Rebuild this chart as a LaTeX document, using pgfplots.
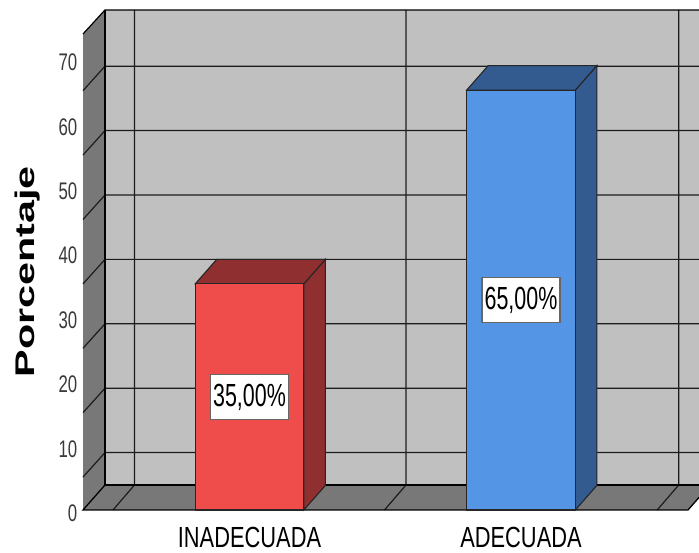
\documentclass[border=0pt]{standalone}
\usepackage{graphicx}
\usepackage{fontspec}
\setmainfont{Liberation Sans}
\usepackage{pgfplots}
\pgfplotsset{compat=1.18}

\definecolor{wallback}{HTML}{C0C0C0}
\definecolor{wallside}{HTML}{787878}
\definecolor{redfront}{HTML}{EF4C4C}
\definecolor{redside}{HTML}{8F2F2F}
\definecolor{bluefront}{HTML}{5595E6}
\definecolor{blueside}{HTML}{335B8F}
\definecolor{gridink}{HTML}{1C1C1C}
\definecolor{scaleink}{HTML}{3A3A3A}

\pgfplotsset{
  pane/.style={
    at={(0pt,0pt)}, anchor=south west,
    scale only axis, width=699pt, height=553pt,
    axis line style={draw=none},
    major tick length=0pt,
    clip=true,
  },
}
\newcommand{\ticktext}[1]{{\color{scaleink}\fontsize{24}{24}\selectfont\scalebox{0.7}[1]{#1}}}
\newcommand{\cattext}[1]{{\fontsize{28}{28}\selectfont\scalebox{0.78}[1.04]{#1}}}
\newcommand{\valtext}[1]{{\fontsize{32}{32}\selectfont\scalebox{0.67}[1]{#1}}}

\begin{document}
\begin{tikzpicture}
\path[use as bounding box] (0pt,0pt) rectangle (699pt,553pt);

% Room of the chart: walls, floor, grid and the percentage scale
\begin{axis}[pane,
  xmin=0, xmax=699, ymin=-5.59, ymax=80.28,
  xtick=\empty,
  ytick={0,10,20,30,40,50,60,70},
  yticklabels={\ticktext{0},\ticktext{10},\ticktext{20},\ticktext{30},\ticktext{40},\ticktext{50},\ticktext{60},\ticktext{70}},
  yticklabel style={anchor=east, xshift=77.5pt, yshift=3.7pt, inner sep=0pt},
  ylabel={\fontsize{27}{27}\selectfont\bfseries\scalebox{1.53}[1]{Porcentaje}},
  every axis y label/.style={at={(axis description cs:0.0393,0.5085)}, rotate=90, anchor=center},
  unbounded coords=jump,
]
\addplot[fill=wallback, draw=none] coordinates {(105,4.97) (699,4.97) (699,78.73) (105,78.73)} -- cycle;
\addplot[fill=wallside, draw=none] coordinates {(83,1.09) (105,4.97) (105,78.73) (83,75.0)} -- cycle;
\addplot[fill=wallside, draw=none] coordinates {(83,1.09) (688,1.09) (699,3.03) (699,4.97) (105,4.97)} -- cycle;
% horizontal grid, carried down the side wall
\addplot[gridink, line width=1.2pt] coordinates {
  (83,6.2)  (105,10) (699,10) (nan,nan)
  (83,16.2) (105,20) (699,20) (nan,nan)
  (83,26.2) (105,30) (699,30) (nan,nan)
  (83,36.2) (105,40) (699,40) (nan,nan)
  (83,46.2) (105,50) (699,50) (nan,nan)
  (83,56.2) (105,60) (699,60) (nan,nan)
  (83,66.2) (105,70) (699,70)
};
% vertical grid, carried across the floor
\addplot[gridink, line width=1.2pt] coordinates {
  (113,1.09)   (134.5,4.97) (134.5,78.73) (nan,nan)
  (384.5,1.09) (406,4.97)   (406,78.73)   (nan,nan)
  (657.2,1.09) (678.7,4.97) (678.7,78.73)
};
% edges of the room
\addplot[black, line width=1.2pt] coordinates {(83,75.0) (105,78.73) (699,78.73)};
\addplot[black, line width=1.2pt] coordinates {(105,78.73) (105,4.97) (699,4.97)};
\addplot[black, line width=1.3pt] coordinates {(105,4.97) (83,1.09) (688,1.09) (699,3.03)};
\end{axis}

% The two prisms, in percent
\begin{axis}[pane,
  xmin=-0.91897, xmax=1.65562, ymin=-6.656, ymax=78.947,
  ytick=\empty,
  xtick={0,1},
  xticklabels={\cattext{INADECUADA},\cattext{ADECUADA}},
  xticklabel style={anchor=center, yshift=16pt, inner sep=0pt},
]
\addplot[fill=redside, draw=black!85, line width=1.1pt] coordinates {(0.2,0) (0.2792,3.79) (0.2792,38.79) (0.2,35)} -- cycle;
\addplot[fill=redside, draw=black!85, line width=1.1pt] coordinates {(-0.2,35) (0.2,35) (0.2792,38.79) (-0.1208,38.79)} -- cycle;
\addplot[ybar, bar width=0.4, bar shift=0pt, fill=redfront, draw=black!85, line width=1.1pt] coordinates {(0,35)};
\addplot[fill=blueside, draw=black!85, line width=1.1pt] coordinates {(1.2,0) (1.2792,3.79) (1.2792,68.79) (1.2,65)} -- cycle;
\addplot[fill=blueside, draw=black!85, line width=1.1pt] coordinates {(0.8,65) (1.2,65) (1.2792,68.79) (0.8792,68.79)} -- cycle;
\addplot[ybar, bar width=0.4, bar shift=0pt, fill=bluefront, draw=black!85, line width=1.1pt] coordinates {(1,65)};
\node[fill=white, draw=black!60, line width=1.2pt, minimum width=78pt, minimum height=45pt, inner sep=0pt] at (axis cs:0,17.5) {\valtext{35,00\%}};
\node[fill=white, draw=black!60, line width=1.2pt, minimum width=78pt, minimum height=45pt, inner sep=0pt] at (axis cs:1,32.5) {\valtext{65,00\%}};
\end{axis}
\end{tikzpicture}
\end{document}
